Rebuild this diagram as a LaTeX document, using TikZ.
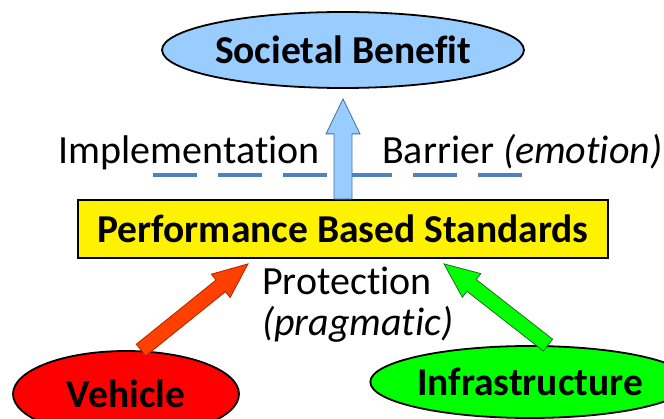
\documentclass[tikz,border=0pt]{standalone}
\usepackage{fontspec}
\setmainfont{Carlito}[Ligatures=NoCommon]
\usepackage{xcolor}
\usepackage{tikz}
\usetikzlibrary{positioning,calc,shapes.geometric}

\definecolor{skyfill}{RGB}{153,204,255}
\definecolor{skyedge}{RGB}{65,113,156}
\definecolor{barrierblue}{RGB}{79,129,189}
\definecolor{vehred}{RGB}{255,0,0}
\definecolor{pushred}{RGB}{255,64,0}
\definecolor{pushrededge}{RGB}{170,40,0}
\definecolor{infgreen}{RGB}{0,255,0}
\definecolor{pushgreenedge}{RGB}{30,110,30}

% block arrow: from, to, shaft half width, head half width, style
\newcommand{\fatarrow}[5]{%
  \coordinate (fa-h) at ($(#2)!35pt!(#1)$);
  \draw[#5] ($(#1)!#3!-90:(#2)$) -- ($(fa-h)!#3!90:(#1)$) -- ($(fa-h)!#4!90:(#1)$)
    -- (#2) -- ($(fa-h)!#4!-90:(#1)$) -- ($(fa-h)!#3!-90:(#1)$) -- ($(#1)!#3!90:(#2)$) -- cycle;}

\begin{document}
\begin{tikzpicture}[x=1pt, y=1pt,
  bigtext/.style={font=\fontsize{40}{44}\selectfont, inner sep=0pt},
  oval/.style={ellipse, draw=black, line width=1.8pt, inner sep=0pt, font=\fontsize{39.5}{44}\selectfont\bfseries},
  banner/.style={draw=black, line width=1.8pt, fill=yellow, inner sep=0pt, minimum width=530pt, minimum height=58pt, font=\fontsize{39.5}{44}\selectfont\bfseries},
  push/.style={line width=0.8pt, line join=miter}
]
\useasboundingbox (0,0) rectangle (664,418);

\node[banner] (pbs) at (343,189) {Performance Based Standards};
\node[oval, fill=skyfill, minimum width=307pt, minimum height=76pt] (soc) at (343,368) {Societal Benefit};
\node[oval, fill=vehred, minimum width=226pt, minimum height=86pt] (veh) at (126,24) {Vehicle};
\node[oval, fill=infgreen, minimum width=282pt, minimum height=72pt] (inf) at (530,36) {Infrastructure};

% texts round the barrier
\node[bigtext, anchor=base east] (impl) at (320,254) {Implementation};
\node[bigtext, anchor=base west] (barrier) at (382,254) {Barrier \textit{(emotion)}};
\node[bigtext, anchor=base west] (prot) at (262,123) {Protection};
\node[bigtext, anchor=base west] (prag) at (262,82) {\textit{(pragmatic)}};

% barrier line
\coordinate (bar-l) at (153,243);
\coordinate (bar-r) at (526,243);
\draw[barrierblue, line width=4.5pt, dash pattern=on 44pt off 21pt] (bar-l) -- (bar-r);

% arrows into and out of the standards
\coordinate (soc-tip) at ($(soc.south)+(0,-10)$);
\fatarrow{pbs.north}{soc-tip}{9pt}{17pt}{push, fill=skyfill, draw=skyedge}
\coordinate (veh-tail) at ($(veh.north)+(15,0)$);
\coordinate (veh-tip) at ($(pbs.south)+(-95,-5)$);
\fatarrow{veh-tail}{veh-tip}{7.5pt}{15pt}{push, fill=pushred, draw=pushrededge}
\coordinate (inf-tail) at ($(inf.north)+(18,0)$);
\coordinate (inf-tip) at ($(pbs.south)+(101,-5)$);
\fatarrow{inf-tail}{inf-tip}{7.5pt}{15pt}{push, fill=infgreen, draw=pushgreenedge}
\end{tikzpicture}
\end{document}
